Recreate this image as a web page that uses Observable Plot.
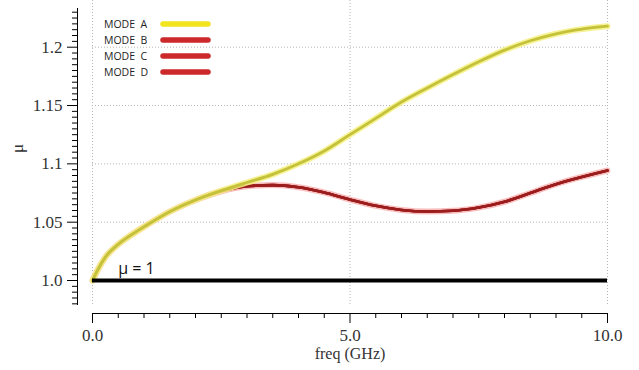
<!DOCTYPE html>
<html><head><meta charset="utf-8">
<script src="https://cdn.jsdelivr.net/npm/d3@7"></script>
<script src="https://cdn.jsdelivr.net/npm/@observablehq/plot@0.6"></script>
<style>
html,body{margin:0;padding:0;background:#fff;}
</style></head><body><div id="chart"></div>
<script>
// frequency samples (GHz)
const freq  = [0, 0.1, 0.25, 0.5, 0.75, 1.0, 1.5, 2.0, 2.5, 3.0, 3.5, 4.0, 4.5, 5.0, 5.5, 6.0, 6.5, 7.0, 7.5, 8.0, 8.5, 9.0, 9.5, 10.0];
// permeability of each mode
const modeA = [1.000, 1.009, 1.020, 1.031, 1.039, 1.046, 1.059, 1.069, 1.077, 1.084, 1.091, 1.100, 1.111, 1.125, 1.139, 1.153, 1.165, 1.1765, 1.1875, 1.1975, 1.2055, 1.2115, 1.2155, 1.2180];
const modeB = [1.000, 1.009, 1.020, 1.031, 1.039, 1.046, 1.059, 1.069, 1.0765, 1.0808, 1.0818, 1.0800, 1.0755, 1.0694, 1.0640, 1.0605, 1.0592, 1.0598, 1.0625, 1.0675, 1.0750, 1.0826, 1.0888, 1.0943];
// modes C and D coincide with mode B in the picture
const modeC = modeB;
const modeD = modeB;

const legendLabels = ["MODE\u00a0\u00a0A", "MODE\u00a0\u00a0B", "MODE\u00a0\u00a0C", "MODE\u00a0\u00a0D"];
const legendColors = ["#f2e41e", "#cc2a2a", "#cc2a2a", "#cc2a2a"];

const yMajor = [1.0, 1.05, 1.1, 1.15, 1.2];
const yMajorLabels = ["1.0", "1.05", "1.1", "1.15", "1.2"];
const xMajor = [0, 5, 10];
const xMajorLabels = ["0.0", "5.0", "10.0"];
const yMinor = d3.range(196, 247).map(i => i / 200).filter(v => !yMajor.some(m => Math.abs(m - v) < 1e-9));
const xMinor = d3.range(0, 21).map(i => i / 2).filter(v => !xMajor.includes(v));

const annotation = {x: 0.5, y: 1.0, text: "μ = 1"};
const yLo = 0.97857, yHi = 1.24003, yAxisTop = 1.2332;

const rows = freq.map((f, i) => ({f, a: modeA[i], b: modeB[i], c: modeC[i], d: modeD[i]}));
const serif = "Liberation Serif";
const sans = "Open Sans";
const gridStyle = {stroke: "#b5b5b5", strokeOpacity: 1, strokeDasharray: "1,2", strokeWidth: 1};
const crv = "monotone-x";

const chart = Plot.plot({
  width: 639, height: 370,
  marginLeft: 92, marginRight: 32, marginTop: 0, marginBottom: 65,
  x: {domain: [0, 10], axis: null},
  y: {domain: [yLo, yHi], axis: null},
  style: {background: "#fff", overflow: "visible", fontFamily: serif, fontSize: "17px"},
  marks: [
    Plot.gridY(yMajor.filter(v => v > 1), gridStyle),
    Plot.gridX(xMajor, gridStyle),
    // modes B, C, D (red)
    Plot.line(rows, {x: "f", y: "b", stroke: "#f5a8a8", strokeWidth: 6, strokeOpacity: 0.75, curve: crv}),
    Plot.line(rows, {x: "f", y: "c", stroke: "#9c1d1d", strokeWidth: 2.6, curve: crv}),
    Plot.line(rows, {x: "f", y: "d", stroke: "#9c1d1d", strokeWidth: 2.6, curve: crv}),
    Plot.line(rows, {x: "f", y: "b", stroke: "#9c1d1d", strokeWidth: 2.6, curve: crv}),
    // mode A (yellow)
    Plot.line(rows, {x: "f", y: "a", stroke: "#f6f080", strokeWidth: 6, strokeOpacity: 0.85, curve: crv}),
    Plot.line(rows, {x: "f", y: "a", stroke: "#c4c23a", strokeWidth: 2.8, curve: crv}),
    // μ = 1 reference
    Plot.ruleY([1], {stroke: "black", strokeWidth: 4}),
    Plot.text([annotation], {x: "x", y: "y", text: "text", dy: -12, textAnchor: "start", fontSize: 16, fontFamily: sans, fill: "#111"}),
    // y axis
    Plot.ruleX([0], {y1: yLo, y2: yAxisTop, dx: -15, stroke: "black"}),
    Plot.axisY(yMinor, {tickSize: 5, dx: -15, tickFormat: () => "", label: null, stroke: "black"}),
    Plot.axisY(yMajor, {tickSize: 10, tickPadding: 5, dx: -15, tickFormat: d => yMajorLabels[yMajor.indexOf(d)], label: null, fontSize: 17, fontFamily: serif, fill: "#333", stroke: "black"}),
    // x axis
    Plot.ruleY([yLo], {x1: 0, x2: 10, dy: 8, stroke: "black"}),
    Plot.axisX(xMinor, {tickSize: 5, dy: 8, tickFormat: () => "", label: null, stroke: "black"}),
    Plot.axisX(xMajor, {tickSize: 10, tickPadding: 5, dy: 8, tickFormat: d => xMajorLabels[xMajor.indexOf(d)], label: null, fontSize: 17, fontFamily: serif, fill: "#333", stroke: "black"}),
    // axis titles
    Plot.text(["freq (GHz)"], {text: d => d, frameAnchor: "bottom", dy: 53, fontSize: 16, fontFamily: serif, fill: "#333"}),
    Plot.text(["μ"], {text: d => d, frameAnchor: "left", dx: -75, rotate: -90, fontSize: 17, fontFamily: serif, fill: "#333"})
  ]
});
document.getElementById("chart").appendChild(chart);

const svg = d3.select(chart);
svg.selectAll("g[aria-label$='tick label']").attr("font-family", serif).attr("font-size", 17);

// legend inside the plot area
const lg = svg.append("g").attr("class", "legend").attr("text-anchor", "start");
legendLabels.forEach((lab, i) => {
  const cy = 24 + i * 16;
  lg.append("text").attr("x", 104).attr("y", cy).attr("dy", "0.35em")
    .attr("font-family", sans).attr("font-size", 10.5).attr("fill", "#222").text(lab);
  lg.append("line").attr("x1", 163).attr("x2", 208).attr("y1", cy).attr("y2", cy)
    .attr("stroke", legendColors[i]).attr("stroke-width", 5.5).attr("stroke-linecap", "round");
});
</script></body></html>
